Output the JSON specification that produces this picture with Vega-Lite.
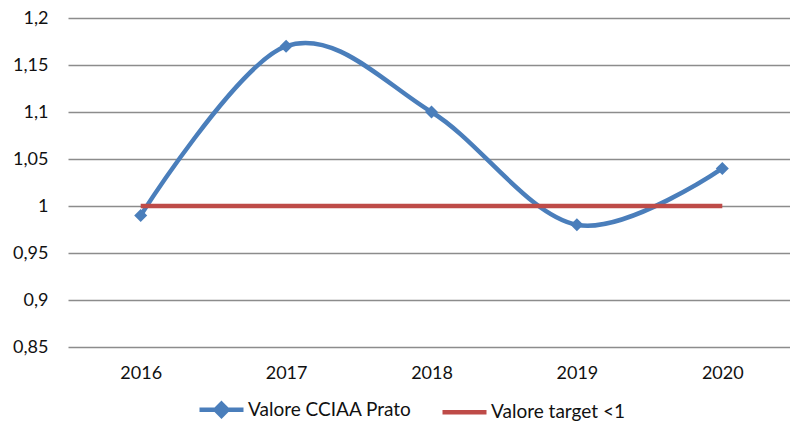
{
  "$schema": "https://vega.github.io/schema/vega-lite/v6.json",
  "autosize": "none",
  "width": 727,
  "height": 329,
  "padding": {"left": 68, "top": 18, "right": 0, "bottom": 83},
  "background": "white",
  "config": {
    "view": {"stroke": null},
    "font": "Lato",
    "axis": {"labelFont": "Lato", "labelFontSize": 18, "labelColor": "#111111", "domain": false, "ticks": false, "title": null}
  },
  "data": {
    "values": [
      {"year": "2016", "series": "Valore CCIAA Prato", "value": 0.99},
      {"year": "2017", "series": "Valore CCIAA Prato", "value": 1.17},
      {"year": "2018", "series": "Valore CCIAA Prato", "value": 1.10},
      {"year": "2019", "series": "Valore CCIAA Prato", "value": 0.98},
      {"year": "2020", "series": "Valore CCIAA Prato", "value": 1.04},
      {"year": "2016", "series": "Valore target <1", "value": 1},
      {"year": "2017", "series": "Valore target <1", "value": 1},
      {"year": "2018", "series": "Valore target <1", "value": 1},
      {"year": "2019", "series": "Valore target <1", "value": 1},
      {"year": "2020", "series": "Valore target <1", "value": 1}
    ]
  },
  "encoding": {
    "x": {"field": "year", "type": "ordinal", "scale": {"type": "point", "padding": 0.5}, "axis": {"labelAngle": 0, "labelPadding": 17, "grid": false}},
    "y": {"field": "value", "type": "quantitative", "scale": {"domain": [0.85, 1.2], "nice": false, "zero": false}, "axis": {"values": [0.85, 0.9, 0.95, 1, 1.05, 1.1, 1.15, 1.2], "labelExpr": "replace(format(datum.value, '.2~f'), '.', ',')", "labelPadding": 20, "grid": true, "gridColor": "#8C8C8C", "gridWidth": 1.6}}
  },
  "layer": [
    {
      "mark": {"type": "line", "interpolate": "cardinal", "strokeWidth": 4.5},
      "encoding": {
        "color": {
          "field": "series", "type": "nominal",
          "scale": {"domain": ["Valore CCIAA Prato", "Valore target <1"], "range": ["#4A7EBB", "#BE4B48"]},
          "legend": {
            "title": null,
            "orient": "none",
            "direction": "horizontal",
            "legendX": 127,
            "legendY": 382,
            "labelFont": "Lato",
            "labelFontSize": 19,
            "labelLimit": 400,
            "labelColor": "#111111",
            "symbolSize": 100,
            "symbolStrokeWidth": 4.5,
            "columnPadding": 21,
            "labelOffset": 34,
            "encode": {
              "symbols": {
                "update": {
                  "shape": {"signal": "datum.value == 'Valore CCIAA Prato' ? 'M-1,0H7.8M3.4,-1.2L4.6,0L3.4,1.2L2.2,0Z' : 'M-1,0H7.8'"},
                  "fill": {"signal": "datum.value == 'Valore CCIAA Prato' ? '#4A7EBB' : 'transparent'"}
                }
              }
            }
          }
        }
      }
    },
    {
      "transform": [{"filter": "datum.series == 'Valore CCIAA Prato'"}],
      "mark": {"type": "point", "shape": "diamond", "filled": true, "size": 170, "color": "#4A7EBB", "opacity": 1}
    }
  ]
}
